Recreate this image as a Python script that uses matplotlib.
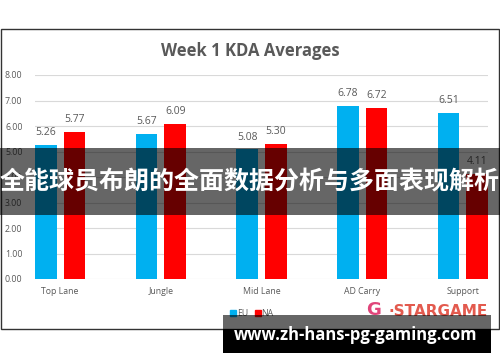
import matplotlib
matplotlib.use("Agg")
import matplotlib.pyplot as plt
from matplotlib.patches import Rectangle
from matplotlib.lines import Line2D
import numpy as np

# Week 1 KDA averages per role
roles = ["Top Lane", "Jungle", "Mid Lane", "AD Carry", "Support"]
eu_kda = [5.26, 5.67, 5.08, 6.78, 6.51]
na_kda = [5.77, 6.09, 5.30, 6.72, 4.11]
y_ticks = [0, 1, 2, 3, 4, 5, 6, 7, 8]

W, H = 500, 362
fig = plt.figure(figsize=(5, 3.62), dpi=100)
fig.patch.set_facecolor("white")

def px(x0, y0, x1, y1):
    # pixel box -> figure fraction [left, bottom, width, height]
    return [x0 / W, 1 - y1 / H, (x1 - x0) / W, (y1 - y0) / H]

ax = fig.add_axes(px(35, 75, 488, 279))
gray = "#595959"
x = np.arange(len(roles))
bw = 0.214
eu_bars = ax.bar(x - 0.142, eu_kda, bw, color="#00B0F0", label="EU", zorder=2)
na_bars = ax.bar(x + 0.142, na_kda, bw, color="#FF0000", label="NA", zorder=2)

for bars in (eu_bars, na_bars):
    for b in bars:
        ax.annotate(f"{b.get_height():.2f}", (b.get_x() + b.get_width() / 2, b.get_height()),
                    xytext=(0, 5), textcoords="offset points", ha="center", va="bottom",
                    fontsize=7.5, color=gray, family="Open Sans")

ax.set_xlim(-0.25, 4.25)
ax.set_ylim(0, 8)
ax.set_yticks(y_ticks)
ax.set_yticklabels([f"{v:.2f}" for v in y_ticks], family="Open Sans")
ax.set_xticks(x)
ax.set_xticklabels(roles, family="Open Sans")
ax.tick_params(axis="both", length=0, labelsize=6.3, labelcolor=gray)
ax.tick_params(axis="y", pad=9)
ax.tick_params(axis="x", pad=6)
ax.grid(axis="y", color="#D9D9D9", lw=0.8, zorder=0)
for s in ax.spines.values():
    s.set_visible(False)

fig.text(0.5, 1 - 51 / H, "Week 1 KDA Averages", ha="center", va="center",
         fontsize=12, fontweight="bold", color=gray, family="Open Sans")

handles = [Line2D([], [], ls="none", marker="s", ms=4, color="#00B0F0", label="EU"),
           Line2D([], [], ls="none", marker="s", ms=4, color="#FF0000", label="NA")]
fig.legend(handles=handles, loc="center", bbox_to_anchor=(0.505, 1 - 314 / H),
           ncol=2, frameon=False, handlelength=0.5, columnspacing=0.8,
           handletextpad=0.2, labelcolor=gray, prop={"family": "Open Sans", "size": 6.3})

# chart frame
fig.patches.append(Rectangle(px(1, 29, 499, 329)[:2], 498 / W, 300 / H, transform=fig.transFigure,
                             fill=False, edgecolor="#333333", lw=1, zorder=5))

# watermark logo
fig.text(366 / W, 1 - 310 / H, "G", ha="left", va="center", fontsize=13,
         fontweight="bold", color="#E0457A", family="DejaVu Sans", zorder=6)
fig.text(488 / W, 1 - 311 / H, "·STARGAME", ha="right", va="center", fontsize=11,
         fontweight="bold", color="#E35A4E", family="DejaVu Sans", zorder=6)

# overlay banner with title
fig.patches.append(Rectangle(px(0, 148, 500, 215)[:2], 1, 67 / H, transform=fig.transFigure,
                             color="black", alpha=0.6, lw=0, zorder=10))
fig.text(0.5, 1 - 182 / H, "全能球员布朗的全面数据分析与多面表现解析", ha="center", va="center",
         fontsize=18, fontweight="bold", color="white",
         family=["Noto Sans CJK SC", "DejaVu Sans"], zorder=11)

# site banner
fig.patches.append(Rectangle(px(223, 315, 491, 329)[:2], 268 / W, 14 / H, transform=fig.transFigure,
                             color="black", alpha=0.6, lw=0, zorder=10))
fig.patches.append(Rectangle(px(223, 329, 491, 353)[:2], 268 / W, 24 / H, transform=fig.transFigure,
                             color="black", lw=0, zorder=10))
fig.text(356 / W, 1 - 335 / H, "www.zh-hans-pg-gaming.com", ha="center", va="center",
         fontsize=12, fontweight="bold", color="white", family="Open Sans", zorder=11)

fig.savefig("out.png", dpi=100)
